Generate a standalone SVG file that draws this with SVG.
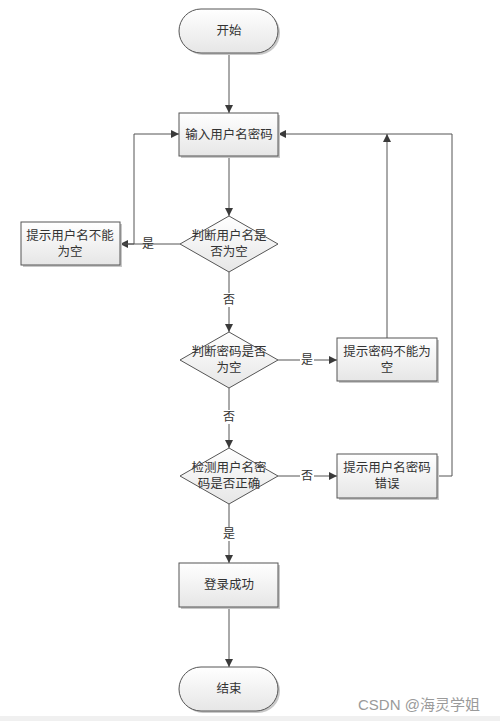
<svg xmlns="http://www.w3.org/2000/svg" width="500" height="721" viewBox="0 0 500 721">
<defs>
<linearGradient id="g" x1="0" y1="0" x2="0" y2="1">
<stop offset="0" stop-color="#ffffff"/>
<stop offset="1" stop-color="#e6e6e6"/>
</linearGradient>
<marker id="arr" viewBox="0 0 10 10" refX="10" refY="5" markerWidth="8" markerHeight="8" markerUnits="userSpaceOnUse" orient="auto">
<path d="M0,0 L10,5 L0,10 z" fill="#3a3a3a"/>
</marker>
</defs>
<style>
.shape{fill:url(#g);stroke:#555;stroke-width:1}
.shadow{fill:#c8c8c8}
.t{font-family:"Liberation Serif","Noto Sans CJK SC",serif;font-size:12.5px;fill:#333;text-anchor:middle}
.lbl{font-family:"Liberation Serif","Noto Sans CJK SC",serif;font-size:12px;fill:#333;text-anchor:middle}
.c{fill:none;stroke:#555;stroke-width:1}
.ca{fill:none;stroke:#555;stroke-width:1;marker-end:url(#arr)}
.wm{font-family:"Liberation Sans","Noto Sans CJK SC",sans-serif;font-size:15px;fill:#9a9a9a}
</style>
<rect x="0" y="0" width="500" height="721" fill="#ffffff"/>
<rect x="0" y="716" width="500" height="5" fill="#f0f0f0"/>

<g id="connectors">
<line class="ca" x1="229" y1="53" x2="229" y2="113"/>
<line class="ca" x1="229" y1="156" x2="229" y2="216"/>
<line class="ca" x1="180" y1="244" x2="120" y2="244"/>
<polyline class="ca" points="120,244 134,244 134,134 179,134"/>
<line class="c" x1="229" y1="272" x2="229" y2="293"/>
<line class="ca" x1="229" y1="307" x2="229" y2="332"/>
<line class="c" x1="278" y1="360" x2="300" y2="360"/>
<line class="ca" x1="314" y1="360" x2="337" y2="360"/>
<line class="ca" x1="387" y1="338" x2="387" y2="134"/>
<line class="c" x1="229" y1="388" x2="229" y2="410"/>
<line class="ca" x1="229" y1="424" x2="229" y2="448"/>
<line class="c" x1="278" y1="476" x2="300" y2="476"/>
<line class="ca" x1="314" y1="476" x2="337" y2="476"/>
<polyline class="ca" points="437,476 452,476 452,134 278,134"/>
<line class="c" x1="229" y1="504" x2="229" y2="527"/>
<line class="ca" x1="229" y1="541" x2="229" y2="563"/>
<line class="ca" x1="229" y1="607" x2="229" y2="667"/>
<text class="lbl" x="148" y="248">是</text>
<text class="lbl" x="229" y="304">否</text>
<text class="lbl" x="307" y="364">是</text>
<text class="lbl" x="229" y="421">否</text>
<text class="lbl" x="307" y="480">否</text>
<text class="lbl" x="229" y="538">是</text>
</g>

<g id="start">
<rect class="shadow" x="181" y="11" width="99" height="44" rx="22"/>
<rect class="shape" x="179" y="9" width="99" height="44" rx="22"/>
<text class="t" x="229" y="35">开始</text>
</g>

<g id="input">
<rect class="shadow" x="181" y="115" width="99" height="43"/>
<rect class="shape" x="179" y="113" width="99" height="43"/>
<text class="t" x="229" y="139">输入用户名密码</text>
</g>

<g id="check-user">
<polygon class="shape" points="229,216 278,244 229,272 180,244"/>
<text class="t" x="229" y="240">判断用户名是</text>
<text class="t" x="229" y="256">否为空</text>
</g>

<g id="user-empty">
<rect class="shadow" x="23" y="224" width="99" height="43"/>
<rect class="shape" x="21" y="222" width="99" height="43"/>
<text class="t" x="70" y="240">提示用户名不能</text>
<text class="t" x="70" y="256">为空</text>
</g>

<g id="check-pwd">
<polygon class="shape" points="229,332 278,360 229,388 180,360"/>
<text class="t" x="229" y="356">判断密码是否</text>
<text class="t" x="229" y="372">为空</text>
</g>

<g id="pwd-empty">
<rect class="shadow" x="339" y="340" width="100" height="43"/>
<rect class="shape" x="337" y="338" width="100" height="43"/>
<text class="t" x="387" y="356">提示密码不能为</text>
<text class="t" x="387" y="372">空</text>
</g>

<g id="verify">
<polygon class="shape" points="229,448 278,476 229,504 180,476"/>
<text class="t" x="229" y="472">检测用户名密</text>
<text class="t" x="229" y="488">码是否正确</text>
</g>

<g id="wrong">
<rect class="shadow" x="339" y="456" width="100" height="44"/>
<rect class="shape" x="337" y="454" width="100" height="44"/>
<text class="t" x="387" y="472">提示用户名密码</text>
<text class="t" x="387" y="488">错误</text>
</g>

<g id="success">
<rect class="shadow" x="181" y="565" width="99" height="44"/>
<rect class="shape" x="179" y="563" width="99" height="44"/>
<text class="t" x="229" y="589">登录成功</text>
</g>

<g id="end">
<rect class="shadow" x="181" y="669" width="99" height="44" rx="22"/>
<rect class="shape" x="179" y="667" width="99" height="44" rx="22"/>
<text class="t" x="229" y="693">结束</text>
</g>

<text class="wm" x="358" y="710">CSDN @海灵学姐</text>
</svg>
